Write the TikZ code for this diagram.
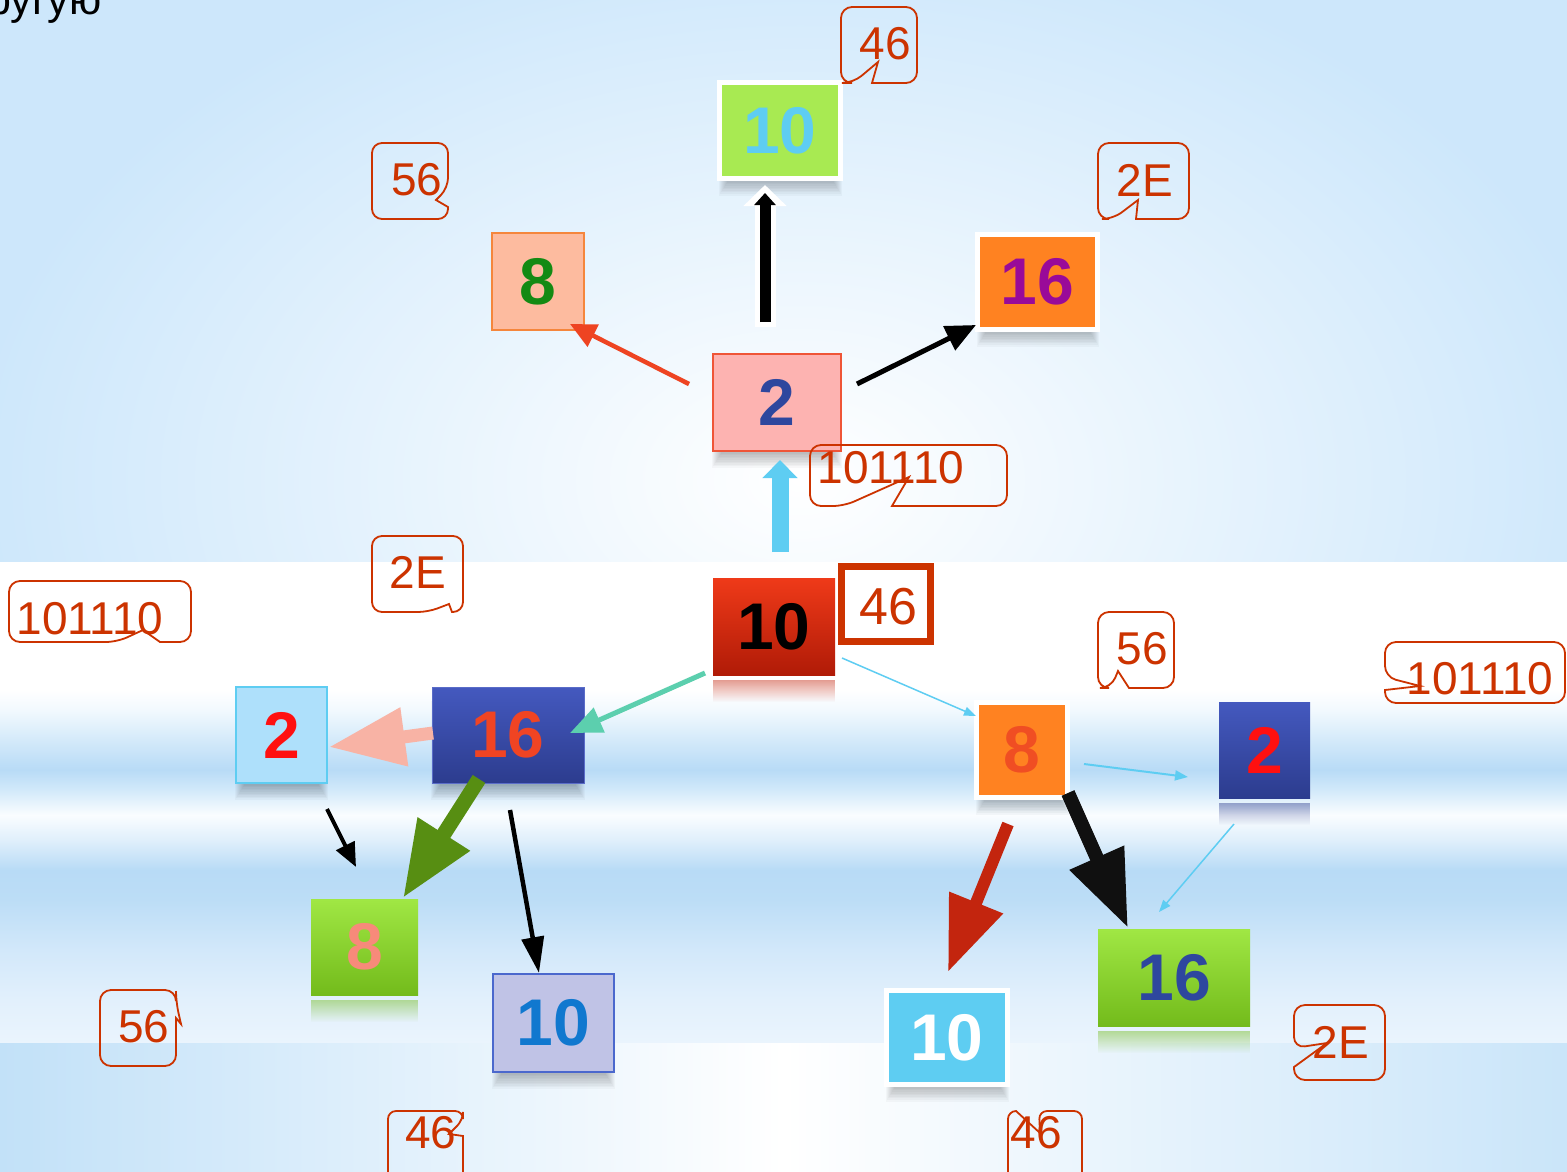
\documentclass[tikz,border=0pt]{standalone}
\usepackage{fontspec}
\setmainfont{Liberation Sans}
\usetikzlibrary{arrows.meta,calc,fadings}
\pgfdeclarelayer{back}
\pgfdeclarelayer{shad}
\pgfsetlayers{back,shad,main}

\definecolor{bgtop}{HTML}{CDE7FB}
\definecolor{bgbl}{HTML}{C2E1F8}
\definecolor{bgbr}{HTML}{CAE5F9}
\definecolor{mbA}{HTML}{EAF4FD}
\definecolor{mbB}{HTML}{E2F0FC}
\definecolor{mbC}{HTML}{D2E8FA}
\definecolor{mbD}{HTML}{BCDDF6}
\definecolor{mbE}{HTML}{B8DBF6}
\definecolor{mbF}{HTML}{E0EFFB}
\definecolor{mbG}{HTML}{FAFDFF}
\definecolor{mbH}{HTML}{D2E9FA}
\definecolor{mbI}{HTML}{B8DBF6}
\definecolor{mbJ}{HTML}{D4EAFA}
\definecolor{mbK}{HTML}{F2F9FE}
\definecolor{coR}{HTML}{CC3300}
\definecolor{cyanB}{HTML}{5ECDF2}
\definecolor{limeG}{HTML}{A8EA52}
\definecolor{salm}{HTML}{FDBB9F}
\definecolor{salmB}{HTML}{F5863C}
\definecolor{darkG}{HTML}{138A13}
\definecolor{orng}{HTML}{FF8221}
\definecolor{purp}{HTML}{990A99}
\definecolor{pinkF}{HTML}{FDB3B1}
\definecolor{pinkB}{HTML}{EF5537}
\definecolor{navyT}{HTML}{2E479E}
\definecolor{redT}{HTML}{EF3A19}
\definecolor{redBt}{HTML}{B01B07}
\definecolor{blueT}{HTML}{4459BF}
\definecolor{blueBt}{HTML}{2C3C8E}
\definecolor{blueBd}{HTML}{5A6CC8}
\definecolor{redOr}{HTML}{F04423}
\definecolor{skyF}{HTML}{AEE0FB}
\definecolor{pureR}{HTML}{FF1010}
\definecolor{grT}{HTML}{A0E744}
\definecolor{grB}{HTML}{73BB1B}
\definecolor{salmT}{HTML}{F78A7A}
\definecolor{lavF}{HTML}{C0C3E6}
\definecolor{lavB}{HTML}{4B68CD}
\definecolor{blT}{HTML}{1078CF}
\definecolor{ortx}{HTML}{F04E23}
\definecolor{arRed}{HTML}{EE4422}
\definecolor{teal}{HTML}{5CCFAE}
\definecolor{pinkA}{HTML}{F8B3A5}
\definecolor{grA}{HTML}{578E12}
\definecolor{redA}{HTML}{C3250E}
\definecolor{blkA}{HTML}{101010}

\pgfdeclareverticalshading{midband}{100bp}{color(0bp)=(mbA); color(25bp)=(mbA); color(29.5bp)=(mbB); color(34.7bp)=(mbC); color(39.9bp)=(mbD); color(43bp)=(mbE); color(46.1bp)=(mbF); color(48.7bp)=(mbG); color(51.3bp)=(mbH); color(53.4bp)=(mbI); color(56.5bp)=(mbJ); color(59.6bp)=(mbK); color(61.7bp)=(white); color(75bp)=(white); color(100bp)=(white)}

\tikzfading[name=reflfade, top color=transparent!55, bottom color=transparent!100]

\newcommand\dshadow[1]{\foreach \k in {1,...,10}{\fill[black,opacity=0.028] ($(#1.north west)+(9-\k,14)$) rectangle ($(#1.south east)+(\k-9,1+1.6*\k)$);}}

\begin{document}
\begin{tikzpicture}[x=1pt,y=-1pt,
  box/.style={inner sep=0pt, outer sep=0pt, font=\bfseries\fontsize{66}{70}\selectfont},
  wframe/.style={draw=white, line width=5pt},
  cotext/.style={inner sep=0pt, text=coR, font=\fontsize{46}{50}\selectfont},
  co/.style={draw=coR, line width=1.8pt},
  refl/.style={path fading=reflfade}
]
\useasboundingbox (0,0) rectangle (1567,1171);
\clip (0,0) rectangle (1567,1171);

% ---------- background ----------
\begin{pgfonlayer}{back}
\fill[bgtop] (0,0) rectangle (1567,562);
\begin{scope}
\clip (0,0) rectangle (1567,562);
\shade[inner color=white, outer color=bgtop] (800,480) ellipse [x radius=830, y radius=560];
\end{scope}
\shade[shading=midband] (0,562) rectangle (1567,1043);
\shade[left color=bgbl, right color=bgbr, middle color=white] (0,1043) rectangle (1567,1171);
\end{pgfonlayer}

\node[anchor=base west, inner sep=0pt, font=\fontsize{43}{46}\selectfont] (toptext) at (-13,14) {ругую};

% ---------- boxes ----------
\node[box, wframe, fill=limeG, text=cyanB, minimum width=121pt, minimum height=96pt] (tenT) at (780,130.5) {10};
\node[box, fill=salm, draw=salmB, line width=1.5pt, text=darkG, minimum width=92pt, minimum height=97pt] (eightT) at (538,281.5) {8};
\node[box, wframe, fill=orng, text=purp, minimum width=120pt, minimum height=95pt] (sixT) at (1037.5,282) {16};
\node[box, fill=pinkF, draw=pinkB, line width=2pt, text=navyT, minimum width=128pt, minimum height=97pt] (two) at (777,402.5) {2};

\node[box, top color=redT, bottom color=redBt, text=black, minimum width=122pt, minimum height=97pt] (tenR) at (774,626.5) {10};
\node[box, top color=blueT, bottom color=blueBt, draw=blueBd, line width=1pt, text=redOr, minimum width=152pt, minimum height=96pt] (sixB) at (508,735) {16};
\node[box, fill=skyF, draw=cyanB, line width=2pt, text=pureR, minimum width=91pt, minimum height=96pt] (twoL) at (281.5,735) {2};
\node[box, top color=grT, bottom color=grB, text=salmT, minimum width=107pt, minimum height=96pt] (eightG) at (364.5,947) {8};
\node[box, fill=lavF, draw=lavB, line width=2pt, text=blT, minimum width=121pt, minimum height=98pt] (tenL) at (553.5,1023) {10};
\node[box, wframe, fill=orng, text=ortx, minimum width=91pt, minimum height=95pt] (eightO) at (1022,750) {8};
\node[box, top color=blueT, bottom color=blueBt, text=pureR, minimum width=91pt, minimum height=96pt] (twoD) at (1264.5,750) {2};
\node[box, top color=grT, bottom color=grB, text=navyT, minimum width=152pt, minimum height=97pt] (sixG) at (1174,977.5) {16};
\node[box, wframe, fill=cyanB, text=white, minimum width=121pt, minimum height=94pt] (tenC) at (947,1037.5) {10};

% ---------- shadows and reflections ----------
\begin{pgfonlayer}{shad}
\dshadow{tenT}
\dshadow{sixT}
\dshadow{two}
\dshadow{sixB}
\dshadow{twoL}
\dshadow{tenL}
\dshadow{eightO}
\dshadow{tenC}
\fill[redA, refl] ($(tenR.south west)+(0,5)$) rectangle ($(tenR.south east)+(0,27)$);
\fill[grB, refl] ($(eightG.south west)+(0,5)$) rectangle ($(eightG.south east)+(0,27)$);
\fill[blueBt, refl] ($(twoD.south west)+(0,5)$) rectangle ($(twoD.south east)+(0,27)$);
\fill[grB, refl] ($(sixG.south west)+(0,5)$) rectangle ($(sixG.south east)+(0,27)$);
\end{pgfonlayer}

% ---------- arrows (upper) ----------
\draw[white, line width=21pt, -{Triangle[length=21pt,width=42pt]}] ($(two)+(-12,-75.5)$) -- ($(tenT)+(-15,54.5)$);
\draw[black, line width=11pt, -{Triangle[length=12pt,width=21pt]}] ($(two)+(-12,-80.5)$) -- ($(tenT)+(-15,62.5)$);
\draw[arRed, line width=4.5pt, -{Triangle[length=26pt,width=24pt]}] ($(two)+(-88,-18.5)$) -- ($(eightT)+(32,42.5)$);
\draw[black, line width=5pt, -{Triangle[length=30pt,width=26pt]}] ($(two)+(80,-18.5)$) -- ($(sixT)+(-61.5,43)$);
\draw[cyanB, line width=17pt, -{Triangle[length=18pt,width=34pt]}] ($(tenR)+(6,-74.5)$) -- ($(two)+(3,57.5)$);

% ---------- arrows (lower left) ----------
\draw[teal, line width=5pt, -{Triangle[length=32pt,width=26pt]}] ($(tenR)+(-69,46.5)$) -- ($(sixB)+(62,-2)$);
\draw[pinkA, line width=13pt, -{Triangle[length=76pt,width=56pt]}] ($(sixB)+(-75,-2)$) -- ($(twoL)+(47.5,12)$);
\draw[black, line width=4pt, -{Triangle[length=24pt,width=20pt]}] ($(twoL)+(45.5,74)$) -- ($(eightG)+(-8.5,-80)$);
\draw[grA, line width=15pt, -{Triangle[length=76pt,width=58pt]}] ($(sixB)+(-29,44)$) -- ($(eightG)+(38.5,-49)$);
\draw[black, line width=4.5pt, -{Triangle[length=36pt,width=22pt]}] ($(sixB)+(2,75)$) -- ($(tenL)+(-14.5,-50)$);

% ---------- arrows (lower right) ----------
\draw[cyanB, line width=1.5pt, -{Triangle[length=12pt,width=9pt]}] ($(tenR)+(68,31.5)$) -- ($(eightO)+(-46,-34)$);
\draw[cyanB, line width=2pt, -{Triangle[length=13pt,width=10pt]}] ($(eightO)+(62,14)$) -- ($(twoD)+(-76.5,27)$);
\draw[cyanB, line width=1.5pt, -{Triangle[length=12pt,width=9pt]}] ($(twoD)+(-30.5,74)$) -- ($(sixG)+(-15,-65.5)$);
\draw[redA, line width=12pt, -{Triangle[length=75pt,width=55pt]}] ($(eightO)+(-14,74)$) -- ($(tenC)+(1,-65.5)$);
\draw[blkA, line width=14pt, -{Triangle[length=77pt,width=56pt]}] ($(eightO)+(46,43)$) -- ($(sixG)+(-46,-49.5)$);

% ---------- callouts ----------
\node[cotext] (c1) at (885,44) {46};
\draw[co] (872,83) [rounded corners=11pt] -- (917,83) -- (917,7) -- (841,7) -- (841,83) -- (853,83) [sharp corners] -- (878,62) -- cycle;

\node[cotext] (c2) at (417,180) {56};
\draw[co] (448,207) [rounded corners=10pt] -- (448,219) -- (372,219) -- (372,143) -- (448,143) -- (448,188) [sharp corners] -- (436,200) -- cycle;

\node[cotext] (c3) at (1145,180) {2E};
\draw[co] (1136,219) [rounded corners=11pt] -- (1189,219) -- (1189,143) -- (1098,143) -- (1098,219) -- (1113,219) [sharp corners] -- (1138,200) -- cycle;

\node[cotext] (c4) at (891,468) {101110};
\draw[co] (892,506) [rounded corners=11pt] -- (1007,506) -- (1007,445) -- (810,445) -- (810,506) -- (844,506) [sharp corners] -- (909,477) -- cycle;

\node[inner sep=0pt, fill=white, draw=coR, line width=7pt, minimum width=89pt, minimum height=75pt] (c5box) at (886,604) {};
\node[inner sep=0pt, text=coR, font=\fontsize{52}{56}\selectfont] (c5) at (888,607) {46};

\node[cotext] (c6) at (90,619) {101110};
\draw[co] (160,642) [rounded corners=11pt] -- (191,642) -- (191,581) -- (9,581) -- (9,642) -- (117,642) [sharp corners] -- (143,630) -- cycle;

\node[cotext] (c7) at (418,572) {2E};
\draw[co] (452,612) [rounded corners=10pt] -- (463,612) -- (463,536) -- (372,536) -- (372,612) -- (428,612) [sharp corners] -- (449,604) -- cycle;

\node[cotext] (c8) at (144,1027) {56};
\draw[co] (176,1018) [rounded corners=11pt] -- (176,1066) -- (100,1066) -- (100,990) -- (176,990) -- (176,1002) [sharp corners] -- (181,1024) -- cycle;

\node[cotext] (c9) at (431,1133) {46};
\draw[co] (463,1136) [rounded corners=8pt] -- (463,1195) -- (388,1195) -- (388,1111) -- (463,1111) -- (463,1120) [sharp corners] -- (449,1134) -- cycle;

\node[cotext] (c10) at (1142,649) {56};
\draw[co] (1129,688) [rounded corners=11pt] -- (1174,688) -- (1174,612) -- (1098,612) -- (1098,688) -- (1111,688) [sharp corners] -- (1118,671) -- cycle;

\node[cotext] (c11) at (1480,679) {101110};
\draw[co] (1385,690) [rounded corners=11pt] -- (1385,703) -- (1565,703) -- (1565,642) -- (1385,642) -- (1385,677) [sharp corners] -- (1420,686) -- cycle;

\node[cotext] (c12) at (1341,1042) {2E};
\draw[co] (1294,1067) [rounded corners=11pt] -- (1294,1080) -- (1385,1080) -- (1385,1005) -- (1294,1005) -- (1294,1048) [sharp corners] -- (1327,1043) -- cycle;

\node[cotext] (c13) at (1036,1133) {46};
\draw[co] (1016,1111) [rounded corners=8pt] -- (1008,1111) -- (1008,1195) -- (1082,1195) -- (1082,1111) -- (1039,1111) [sharp corners] -- (1040,1133) -- cycle;
\end{tikzpicture}
\end{document}
